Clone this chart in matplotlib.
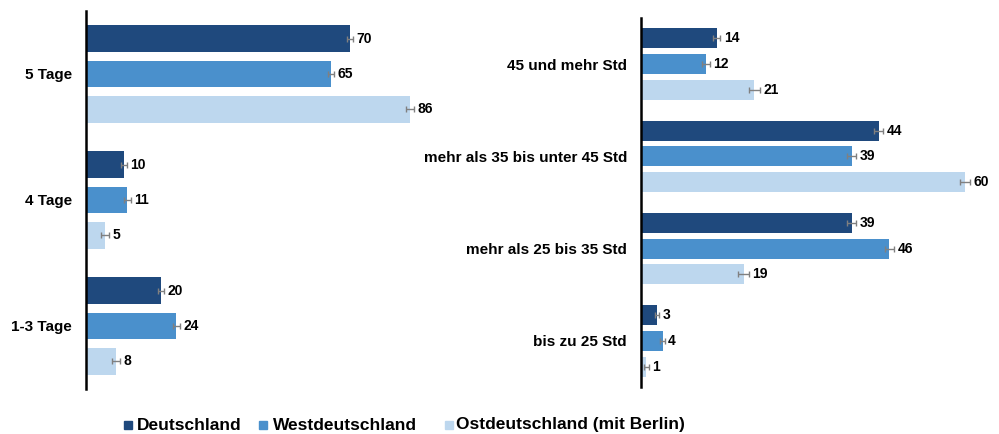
import matplotlib
matplotlib.use("Agg")
import matplotlib.pyplot as plt
from matplotlib.patches import Rectangle
import numpy as np

plt.rcParams['font.family'] = ['Liberation Sans', 'DejaVu Sans']

series = ["Deutschland", "Westdeutschland", "Ostdeutschland (mit Berlin)"]
colors = ["#1F497D", "#4A90CC", "#BDD7EE"]

left_cats = ["5 Tage", "4 Tage", "1-3 Tage"]
left_vals = {
    "Deutschland": [70, 10, 20],
    "Westdeutschland": [65, 11, 24],
    "Ostdeutschland (mit Berlin)": [86, 5, 8],
}
left_err = {
    "Deutschland": [0.9, 0.8, 0.8],
    "Westdeutschland": [0.9, 0.9, 0.9],
    "Ostdeutschland (mit Berlin)": [1.0, 1.0, 1.0],
}

right_cats = ["45 und mehr Std", "mehr als 35 bis unter 45 Std",
              "mehr als 25 bis 35 Std", "bis zu 25 Std"]
right_vals = {
    "Deutschland": [14, 44, 39, 3],
    "Westdeutschland": [12, 39, 46, 4],
    "Ostdeutschland (mit Berlin)": [21, 60, 19, 1],
}
right_err = {
    "Deutschland": [0.7, 0.9, 0.9, 0.4],
    "Westdeutschland": [0.7, 0.9, 0.9, 0.4],
    "Ostdeutschland (mit Berlin)": [1.0, 1.0, 1.0, 0.4],
}

W, H = 999, 434
fig = plt.figure(figsize=(W / 100, H / 100), dpi=100)

def panel(rect, cats, vals, errs, xmax, bar_h):
    ax = fig.add_axes(rect)
    n = len(cats)
    y = np.arange(n)
    offs = [-0.28, 0.0, 0.28]
    for s, c, o in zip(series, colors, offs):
        v = np.array(vals[s])
        e = np.array(errs[s])
        ax.barh(y + o, v, height=bar_h, color=c, zorder=2)
        ax.errorbar(v, y + o, xerr=e, fmt='none', ecolor='#808080',
                    elinewidth=1.0, capsize=2, capthick=1.0, zorder=3)
        for yi, vi, ei in zip(y + o, v, e):
            ax.annotate(f"{vi}", xy=(vi + ei, yi), xytext=(2.5, 0),
                        textcoords='offset points', va='center', ha='left',
                        fontsize=10, fontweight='bold', color='black')
    ax.set_xlim(0, xmax)
    ax.set_ylim(n - 0.5, -0.5)
    ax.set_yticks(y)
    ax.set_yticklabels(cats, fontsize=11, fontweight='bold')
    ax.set_xticks([])
    ax.tick_params(axis='y', length=0, pad=10)
    for sp in ['top', 'right', 'bottom']:
        ax.spines[sp].set_visible(False)
    ax.spines['left'].set_linewidth(1.8)
    ax.spines['left'].set_color('black')
    return ax

panel([86 / W, (H - 389) / H, 377 / W, 378 / H], left_cats, left_vals, left_err,
      100, 0.213)
panel([641 / W, (H - 387) / H, 351 / W, 369 / H], right_cats, right_vals, right_err,
      65, 0.217)

# legend drawn in figure pixels
leg_sq_x = [124, 259, 445]
leg_tx_x = [137, 273, 456]
leg_y = 425
for sx, tx, c, s in zip(leg_sq_x, leg_tx_x, colors, series):
    fig.add_artist(Rectangle((sx / W, (H - leg_y - 4) / H), 8 / W, 8 / H,
                             transform=fig.transFigure, color=c))
    fig.text(tx / W, (H - leg_y) / H, s, ha='left', va='center',
             fontsize=12.5, fontweight='bold', color='black')

fig.savefig("out.png", dpi=100)
